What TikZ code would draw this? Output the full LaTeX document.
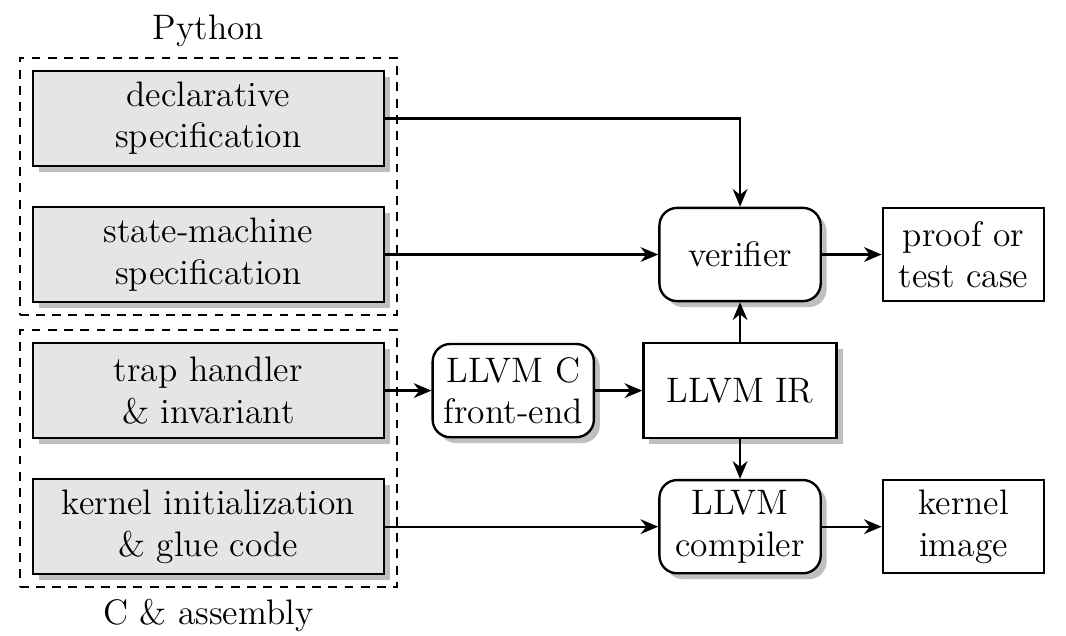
\documentclass[tikz,border=0pt]{standalone}
\usepackage{tikz}
\usetikzlibrary{arrows.meta,shadows,fit}

\begin{document}
\begin{tikzpicture}[
		font=\large,
		srcbox/.style={draw, thick, fill=black!10, align=center, minimum width=4.18cm, minimum height=1.13cm,
			drop shadow={shadow xshift=2pt, shadow yshift=-2pt, fill=black!25, opacity=1}},
		toolbox/.style={draw, thick, fill=white, rounded corners=6pt, align=center, minimum width=1.92cm, minimum height=1.11cm,
			drop shadow={shadow xshift=2pt, shadow yshift=-2pt, fill=black!25, opacity=1}},
		outbox/.style={draw, thick, fill=white, align=center, minimum width=1.92cm, minimum height=1.11cm},
		group/.style={draw, thick, dash pattern=on 3pt off 2.5pt, inner sep=4pt},
		flow/.style={thick, -{Stealth[length=6pt, width=5pt]}}
	]
		\useasboundingbox (0, 0) rectangle (12.69, -7.57);

		% sources
		\node[srcbox] (decl) at (2.48, -1.41) {declarative\\specification};
		\node[srcbox] (state) at (2.48, -3.03) {state-machine\\specification};
		\node[srcbox] (trap) at (2.48, -4.65) {trap handler\\\& invariant};
		\node[srcbox] (init) at (2.48, -6.27) {kernel initialization\\\& glue code};

		\node[group, fit=(decl) (state)] (py) {};
		\node[group, fit=(trap) (init)] (cc) {};
		\node[above] (pylabel) at (py.north) {Python};
		\node[below] (cclabel) at (cc.south) {C \& assembly};

		% tools
		\node[toolbox] (verif) at (8.81, -3.03) {verifier};
		\node[toolbox] (front) at (6.11, -4.65) {LLVM C\\front-end};
		\node[outbox, minimum width=2.3cm, minimum height=1.13cm,
			drop shadow={shadow xshift=2pt, shadow yshift=-2pt, fill=black!25, opacity=1}] (ir) at (8.81, -4.65) {LLVM IR};
		\node[toolbox] (comp) at (8.81, -6.27) {LLVM\\compiler};
		\node[outbox] (proof) at (11.47, -3.03) {proof or\\test case};
		\node[outbox] (image) at (11.47, -6.27) {kernel\\image};

		\draw[flow] (decl.east) -| (verif.north);
		\draw[flow] (state) -- (verif);
		\draw[flow] (trap) -- (front);
		\draw[flow] (front) -- (ir);
		\draw[flow] (ir) -- (verif);
		\draw[flow] (ir) -- (comp);
		\draw[flow] (init) -- (comp);
		\draw[flow] (verif) -- (proof);
		\draw[flow] (comp) -- (image);
	\end{tikzpicture}
\end{document}
